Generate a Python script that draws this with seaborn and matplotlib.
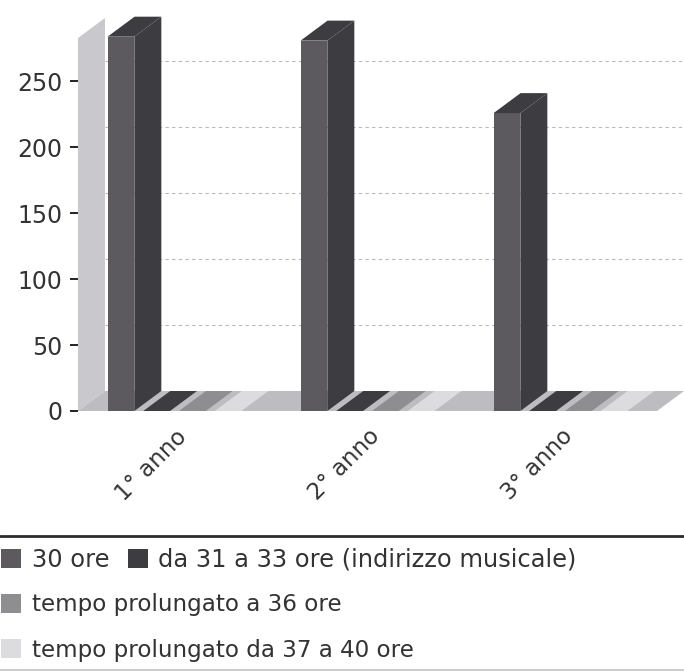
import pandas as pd
import matplotlib
matplotlib.use('Agg')
import matplotlib.pyplot as plt
import seaborn as sns
from matplotlib.lines import Line2D
from matplotlib.patches import Patch, Polygon

anni = ['1° anno', '2° anno', '3° anno']
serie = ['30 ore', 'da 31 a 33 ore (indirizzo musicale)',
         'tempo prolungato a 36 ore', 'tempo prolungato da 37 a 40 ore']
ore_30 = [284, 281, 226]
ore_31_33 = [0, 0, 0]
ore_36 = [0, 0, 0]
ore_37_40 = [0, 0, 0]
colori = ['#5c5a5f', '#3d3c41', '#8e8e90', '#dcdcde']
y_ticks = [0, 50, 100, 150, 200, 250]

df = pd.DataFrame({
    'anno': anni * 4,
    'serie': [s for s in serie for _ in anni],
    'valore': ore_30 + ore_31_33 + ore_36 + ore_37_40,
})

sns.set_theme(style='white')
plt.rcParams['font.family'] = ['DejaVu Sans']

W, H = 684, 672
fig = plt.figure(figsize=(W / 100, H / 100), dpi=100)
ax = fig.add_axes([78 / W, (H - 411) / H, 579 / W, 373 / H])
ax.patch.set_visible(False)

sns.barplot(data=df, x='anno', y='valore', hue='serie', hue_order=serie,
            palette=colori, width=0.74, gap=0.25, saturation=1, linewidth=0,
            legend=False, ax=ax, zorder=3)
ax.set_xlim(-0.5, 2.5)
ax.set_ylim(0, 283)

# profondita' finta 3D, in unita' dati
dx = 27 / 193
dy = 20 / (373 / 283)
x0, x1 = ax.get_xlim()

# parete sinistra e pavimento
ax.add_patch(Polygon([(x0, 0), (x0 + dx, dy), (x0 + dx, 283 + dy), (x0, 283)],
                     closed=True, facecolor='#c9c9cd', edgecolor='none',
                     clip_on=False, zorder=1))
ax.add_patch(Polygon([(x0, 0), (x1, 0), (x1 + dx, dy), (x0 + dx, dy)],
                     closed=True, facecolor='#bcbcc1', edgecolor='none',
                     clip_on=False, zorder=1))

# griglia sul fondo
ax.hlines([t + dy for t in y_ticks[1:]], x0 + dx, x1 + dx, colors='#b8b8b8',
          linestyles=(0, (3, 3)), linewidth=0.8, clip_on=False, zorder=2)

for p in list(ax.patches):
    if p.get_zorder() != 3:
        continue
    p.set_clip_on(False)
    xa = p.get_x()
    xb = xa + p.get_width()
    h = p.get_height()
    col = p.get_facecolor()
    faccia = '#3d3c41' if h > 0 else col
    ax.add_patch(Polygon([(xa, h), (xb, h), (xb + dx, h + dy), (xa + dx, h + dy)],
                         closed=True, facecolor=faccia, edgecolor='none',
                         clip_on=False, zorder=3))
    if h > 0:
        ax.add_patch(Polygon([(xb, 0), (xb + dx, dy), (xb + dx, h + dy), (xb, h)],
                             closed=True, facecolor='#3d3c41', edgecolor='none',
                             clip_on=False, zorder=3))

sns.despine(ax=ax, left=True, bottom=True, right=True, top=True)
ax.set_xlabel('')
ax.set_ylabel('')
ax.set_yticks(y_ticks)
ax.tick_params(axis='y', length=6, width=1.4, color='#222222', left=True,
               labelsize=17, labelcolor='#333333', pad=5)
ax.tick_params(axis='x', length=0, pad=10)
ax.set_xticks(range(len(anni)))
ax.set_xticklabels(anni, rotation=45, ha='right', rotation_mode='anchor',
                   fontsize=16.5, color='#333333')
offset = matplotlib.transforms.ScaledTranslation(1 / 100, 0, fig.dpi_scale_trans)
for lab in ax.get_xticklabels():
    lab.set_transform(lab.get_transform() + offset)

# linee sopra e sotto la legenda
fig.add_artist(Line2D([0, 1], [(H - 536) / H] * 2, color='#2c2c2c', linewidth=2))
fig.add_artist(Line2D([0, 1], [(H - 670) / H] * 2, color='#c4c4c4', linewidth=1.2))

# legenda su tre righe
righe = [([0, 1], 560, 2, 17.4), ([2], 605, 1, 16.6), ([3], 650, 1, 16.6)]
for indici, y, ncol, size in righe:
    handles = [Patch(facecolor=colori[i], edgecolor='none') for i in indici]
    leg = fig.legend(handles, [serie[i] for i in indici], ncol=ncol, frameon=False,
                     loc='center left', bbox_to_anchor=(1 / W, (H - y) / H),
                     borderaxespad=0, borderpad=0, fontsize=size,
                     handlelength=20 / (size * 100 / 72), handleheight=0.85,
                     handletextpad=11 / (size * 100 / 72),
                     columnspacing=18 / (size * 100 / 72), labelcolor='#333333')

fig.savefig('out.png', dpi=100)
